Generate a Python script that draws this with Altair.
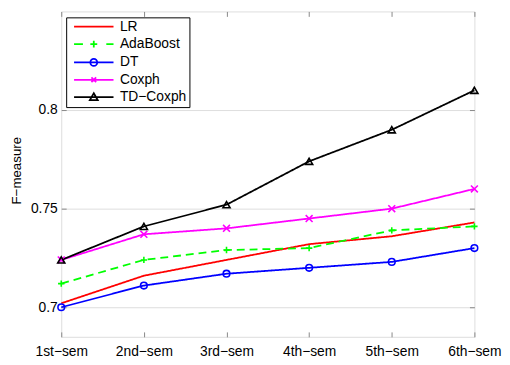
import altair as alt
import pandas as pd

sems = ["1st−sem", "2nd−sem", "3rd−sem", "4th−sem", "5th−sem", "6th−sem"]
series = ["LR", "AdaBoost", "DT", "Coxph", "TD−Coxph"]
LR = [0.702, 0.716, 0.724, 0.732, 0.736, 0.743]
AdaBoost = [0.712, 0.724, 0.729, 0.730, 0.739, 0.741]
DT = [0.700, 0.711, 0.717, 0.720, 0.723, 0.730]
Coxph = [0.724, 0.737, 0.740, 0.745, 0.750, 0.760]
TDCoxph = [0.724, 0.741, 0.752, 0.774, 0.790, 0.810]
y_ticks = [0.7, 0.75, 0.8]

colors = ["#ff0000", "#00ff00", "#0000ff", "#ff00ff", "#000000"]
values = [LR, AdaBoost, DT, Coxph, TDCoxph]
rows = []
for name, vals in zip(series, values):
    for s, v in zip(sems, vals):
        rows.append({"sem": s, "series": name, "value": v})
df = pd.DataFrame(rows)

FONT = "Liberation Sans"
xscale = alt.Scale(domain=sems, padding=0)
yscale = alt.Scale(domain=[0.685, 0.85], zero=False, nice=False)

base = alt.Chart(df)

lines = base.mark_line(strokeWidth=1.8).encode(
    x=alt.X("sem:O", scale=xscale, sort=sems,
            axis=alt.Axis(title=None, orient="bottom", labelAngle=0, domain=False,
                          tickSize=5, offset=-5, labelPadding=8, labelFontSize=14)),
    y=alt.Y("value:Q", scale=yscale,
            axis=alt.Axis(title="F−measure", orient="left", values=y_ticks, format=".2~f",
                          domain=False, tickSize=5, offset=-5, labelPadding=4,
                          labelFontSize=14, titleFontSize=13.5, titleFontWeight="normal",
                          titleX=-50.5, titleY=161, titleAngle=-90, titleBaseline="middle",
                          titleAlign="center")),
    color=alt.Color("series:N", scale=alt.Scale(domain=series, range=colors), legend=None),
    strokeDash=alt.StrokeDash("series:N",
                              scale=alt.Scale(domain=series,
                                              range=[[1, 0], [8, 5], [1, 0], [1, 0], [1, 0]]),
                              legend=None),
    detail="series:N",
)

pt_series = series[1:]
pt_shapes = ["M-1,0H1M0,-1V1", "circle", "M-1,-1L1,1M-1,1L1,-1", "triangle-up"]
points = base.transform_filter(alt.datum.series != "LR").mark_point(
    filled=False, strokeWidth=1.6, opacity=1
).encode(
    x=alt.X("sem:O", scale=xscale, sort=sems, axis=None),
    y=alt.Y("value:Q", scale=yscale, axis=None),
    color=alt.Color("series:N", scale=alt.Scale(domain=series, range=colors), legend=None),
    shape=alt.Shape("series:N", scale=alt.Scale(domain=pt_series, range=pt_shapes), legend=None),
    size=alt.Size("series:N", scale=alt.Scale(domain=pt_series, range=[42, 52, 25, 64]), legend=None),
)

leg_paths = [
    "M-1,0H5.667",
    "M-1,0H0.5M4.45,0H5.667M1.75,0H2.917M2.333,-0.583V0.583",
    "M-1,0H5.667M2.916,0A0.583,0.583,0,1,1,1.75,0A0.583,0.583,0,1,1,2.916,0",
    "M-1,0H5.667M1.933,-0.4L2.733,0.4M1.933,0.4L2.733,-0.4",
    "M-1,0H5.667M2.333,-0.667L3,0.5L1.667,0.5Z",
]
leg = alt.Legend(title=None, orient="none", legendX=5, legendY=6,
                 strokeColor="black", fillColor="white", padding=2.5,
                 symbolOffset=4.5, labelOffset=33.5, rowPadding=2.6,
                 symbolSize=144, symbolStrokeWidth=1.8, symbolOpacity=1,
                 labelFont=FONT, labelFontSize=14, labelColor="black",
                 labelBaseline="middle", cornerRadius=0)
legend_layer = base.transform_filter("false").mark_point(filled=False, opacity=1).encode(
    x=alt.X("sem:O", scale=xscale, sort=sems, axis=None),
    y=alt.Y("value:Q", scale=yscale, axis=None),
    color=alt.Color("series:N", scale=alt.Scale(domain=series, range=colors), legend=leg),
    shape=alt.Shape("series:N", scale=alt.Scale(domain=series, range=leg_paths), legend=leg),
)

frame = base.transform_filter("false").mark_point().encode(
    x=alt.X("sem:O", scale=xscale, sort=sems,
            axis=alt.Axis(title=None, orient="top", labels=False, domain=False,
                          tickSize=5, offset=-5)),
    y=alt.Y("value:Q", scale=yscale,
            axis=alt.Axis(title=None, orient="right", values=y_ticks, labels=False,
                          domain=False, tickSize=5, offset=-5)),
)

chart = alt.layer(lines, points, legend_layer, frame).resolve_scale(
    color="independent", shape="independent", size="independent", strokeDash="independent"
).resolve_axis(x="independent", y="independent").properties(
    width=419, height=330,
    autosize=alt.AutoSizeParams(type="none"),
    padding={"left": 54, "top": 1, "right": 28, "bottom": 21},
).configure_view(stroke="black", strokeWidth=1).configure_axis(
    labelFont=FONT, titleFont=FONT, labelColor="black", titleColor="black",
    tickColor="black", tickWidth=1, grid=False
).configure(background="white")

chart.save("out.html", embed_options={"renderer": "svg", "actions": False})
